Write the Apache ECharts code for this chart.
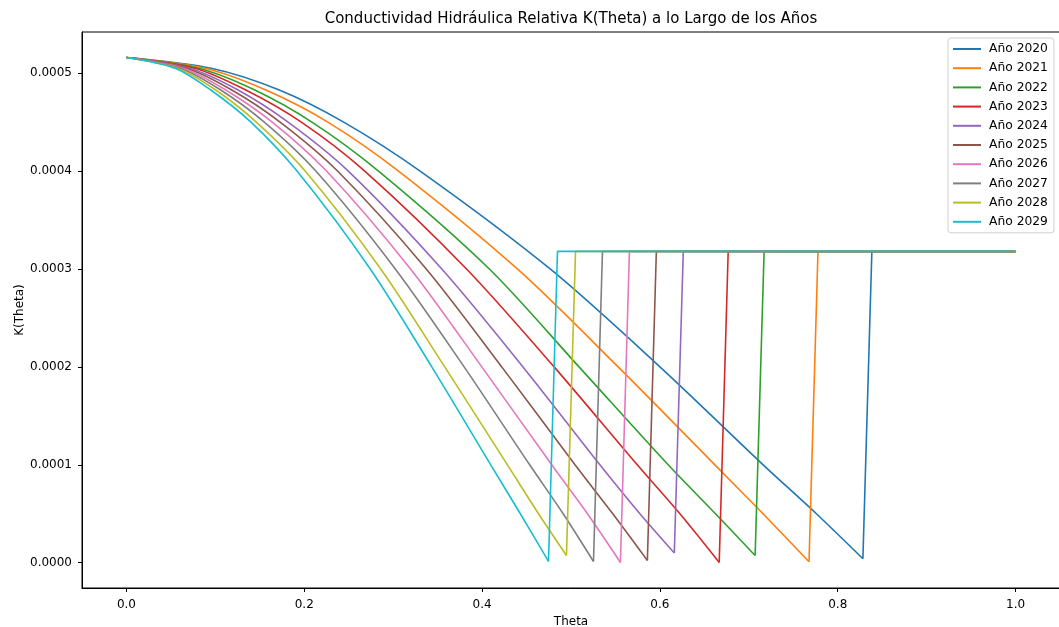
<!DOCTYPE html>
<html>
<head>
<meta charset="utf-8">
<script src="https://cdn.jsdelivr.net/npm/echarts@6/dist/echarts.min.js"></script>
<style>
html,body{margin:0;padding:0;background:#fff;}
#chart{width:1059px;height:627px;}
</style>
</head>
<body>
<div id="chart"></div>
<script>
// ---------- data ----------
const years = ['Año 2020','Año 2021','Año 2022','Año 2023','Año 2024','Año 2025','Año 2026','Año 2027','Año 2028','Año 2029'];
// K levels at which theta was read for each curve
const kLevels = [0.000516, 0.000505, 0.000483, 0.00045, 0.00040, 0.00030, 0.00020, 0.00010, 0.00005];
const theta2020 = [0, 0.0953, 0.1712, 0.2443, 0.3303, 0.4766, 0.6000, 0.7161, 0.7760];
const theta2021 = [0, 0.0883, 0.1562, 0.2265, 0.3060, 0.4397, 0.5530, 0.6618, 0.7160];
const theta2022 = [0, 0.0813, 0.1438, 0.2086, 0.2835, 0.4082, 0.5090, 0.6093, 0.6625];
const theta2023 = [0, 0.0767, 0.1337, 0.1967, 0.2680, 0.3825, 0.4810, 0.5745, 0.6225];
const theta2024 = [0, 0.0709, 0.1250, 0.1818, 0.2495, 0.3547, 0.4460, 0.5325, 0.5775];
const theta2025 = [0, 0.0674, 0.1180, 0.1728, 0.2374, 0.3372, 0.4221, 0.5045, 0.5470];
const theta2026 = [0, 0.0639, 0.1112, 0.1639, 0.2250, 0.3195, 0.3997, 0.4783, 0.5185];
const theta2027 = [0, 0.0604, 0.1056, 0.1550, 0.2130, 0.3024, 0.3798, 0.4535, 0.4912];
const theta2028 = [0, 0.0569, 0.1000, 0.1460, 0.2010, 0.2860, 0.3580, 0.4285, 0.4635];
const theta2029 = [0, 0.0546, 0.0944, 0.1400, 0.1918, 0.2742, 0.3434, 0.4097, 0.4430];
// lowest point of each curve (just before the jump)
const tipTheta = [0.8283, 0.7677, 0.7071, 0.6667, 0.6162, 0.5859, 0.5556, 0.5253, 0.4949, 0.4747];
const tipK     = [0.0000041, 0.0000010, 0.0000074, 0.0000003, 0.0000099, 0.0000023, 0.0000003, 0.0000013, 0.0000074, 0.0000013];
// first point on the plateau
const jumpTheta = [0.8384, 0.7778, 0.7172, 0.6768, 0.6263, 0.5960, 0.5657, 0.5354, 0.5051, 0.4848];
const plateauK = 0.000318;
const endTheta = 1.0;
const xTicks = [0, 0.2, 0.4, 0.6, 0.8, 1.0];
const yTicks = [0, 0.0001, 0.0002, 0.0003, 0.0004, 0.0005];

// ---------- styling ----------
const colors = ['#1f77b4','#ff7f0e','#2ca02c','#d62728','#9467bd','#8c564b','#e377c2','#7f7f7f','#bcbd22','#17becf'];
const thetaLists = [theta2020, theta2021, theta2022, theta2023, theta2024, theta2025, theta2026, theta2027, theta2028, theta2029];
const FONT = 'DejaVu Sans';

const series = [];
years.forEach((name, i) => {
  const curve = kLevels.map((k, j) => [thetaLists[i][j], k]);
  curve.push([tipTheta[i], tipK[i]]);
  series.push({
    name, type: 'line', data: curve, smooth: 0.3, symbol: 'none',
    lineStyle: {width: 1.6, color: colors[i]}, itemStyle: {color: colors[i]},
    animation: false, silent: true
  });
  series.push({
    name, type: 'line', symbol: 'none',
    data: [[tipTheta[i], tipK[i]], [jumpTheta[i], plateauK], [endTheta, plateauK]],
    lineStyle: {width: 1.6, color: colors[i]}, itemStyle: {color: colors[i]},
    animation: false, silent: true
  });
});

const chart = echarts.init(document.getElementById('chart'), null, {renderer: 'canvas'});
chart.setOption({
  backgroundColor: '#fff',
  animation: false,
  textStyle: {fontFamily: FONT},
  grid: {left: 82, top: 32, width: 978, height: 556, show: true, borderColor: '#000', borderWidth: 1,
         containLabel: false, outerBoundsMode: 'none'},
  graphic: [{
    type: 'text', x: 571, y: 19,
    style: {text: 'Conductividad Hidráulica Relativa K(Theta) a lo Largo de los Años', font: '15px "DejaVu Sans"', fill: '#000', textAlign: 'center', textVerticalAlign: 'middle'}
  }],
  legend: {
    orient: 'vertical', left: 948, top: 38,
    data: years,
    icon: 'rect',
    itemWidth: 28, itemHeight: 2, itemGap: 5.2,
    padding: [4, 6, 4, 5],
    borderColor: '#d0d0d0', borderWidth: 1, borderRadius: 3,
    backgroundColor: 'rgba(255,255,255,0.8)',
    textStyle: {fontFamily: FONT, fontSize: 12.3, color: '#000', lineHeight: 14, padding: [0, 0, 0, 3]},
    selectedMode: false
  },
  xAxis: {
    type: 'value', min: -0.05, max: 1.05,
    name: 'Theta', nameLocation: 'middle', nameGap: 28,
    nameTextStyle: {fontFamily: FONT, fontSize: 12, color: '#000'},
    axisLine: {show: true, onZero: false, lineStyle: {color: '#000', width: 1}},
    axisTick: {show: true, length: 4, lineStyle: {color: '#000'}, customValues: xTicks},
    axisLabel: {color: '#000', fontFamily: FONT, fontSize: 12, margin: 11, customValues: xTicks, formatter: v => v.toFixed(1)},
    splitLine: {show: false}
  },
  yAxis: {
    type: 'value', min: -0.0000258, max: 0.000542,
    name: 'K(Theta)', nameLocation: 'middle', nameGap: 56, nameRotate: 90, nameMoveOverlap: false,
    nameTextStyle: {fontFamily: FONT, fontSize: 12, color: '#000'},
    axisLine: {show: true, onZero: false, lineStyle: {color: '#000', width: 1}},
    axisTick: {show: true, length: 4, lineStyle: {color: '#000'}, customValues: yTicks},
    axisLabel: {color: '#000', fontFamily: FONT, fontSize: 12, margin: 10, customValues: yTicks, formatter: v => v.toFixed(4)},
    splitLine: {show: false}
  },
  series
});
</script>
</body>
</html>
